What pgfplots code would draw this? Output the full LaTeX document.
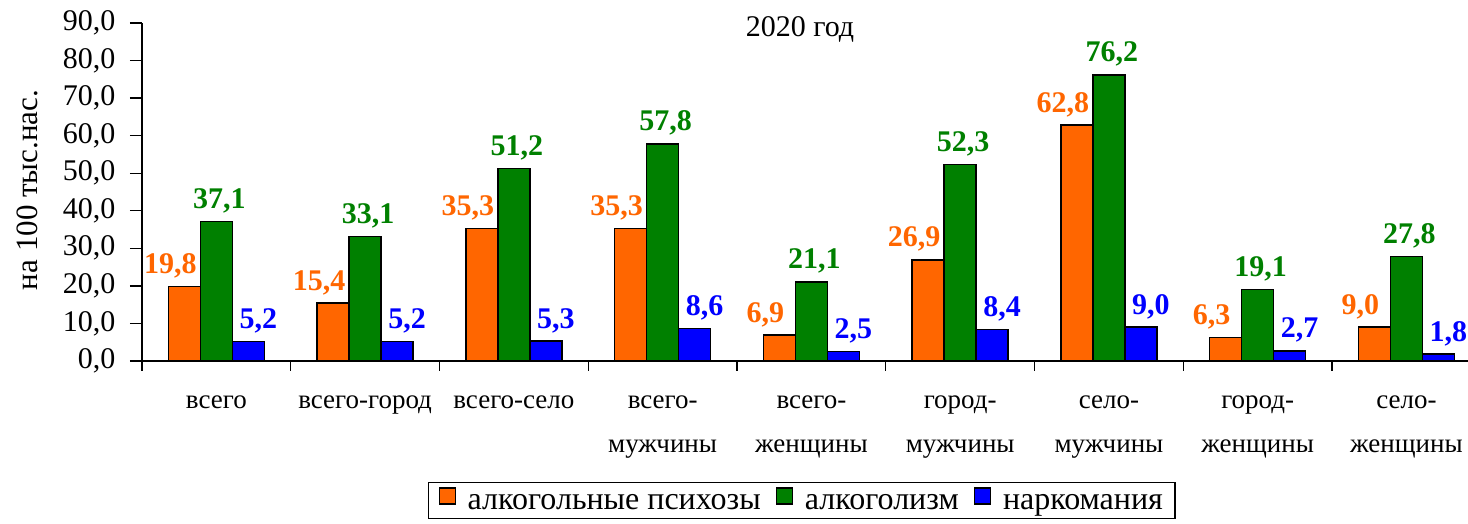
\documentclass[border=0pt]{standalone}
\usepackage{fontspec}
\setmainfont{Liberation Serif}
\usepackage{pgfplots}
\pgfplotsset{compat=1.18}
\definecolor{cOr}{HTML}{FF6600}
\definecolor{cGr}{HTML}{008000}
\definecolor{cBl}{HTML}{0000FF}
\begin{document}
\begin{tikzpicture}
\useasboundingbox (0,0) rectangle (1468pt,524pt);
\begin{axis}[
  at={(142pt,163pt)}, anchor=south west, scale only axis,
  width=1326pt, height=338pt,
  xmin=-0.5, xmax=8.414, ymin=0, ymax=90,
  ybar=0pt, bar width=32pt,
  axis x line*=bottom, axis y line*=left,
  axis line style={line width=1.3pt},
  tick align=outside,
  major tick length=12pt, minor tick length=10pt,
  tick style={black, line width=1.3pt},
  every major x tick/.append style={draw=none},
  ytick={0,10,...,90},
  xtick={0,...,8},
  minor xtick={-0.5,0.5,...,7.5},
  xticklabels={{всего},{всего-город},{всего-село},{всего-\\мужчины},{всего-\\женщины},{город-\\мужчины},{село-\\мужчины},{город-\\женщины},{село-\\женщины}},
  xticklabel style={font=\fontsize{27}{44}\selectfont, align=center, yshift=-19pt},
  yticklabel style={font=\fontsize{30}{30}\selectfont, xshift=-11pt},
  /pgf/number format/.cd, fixed, fixed zerofill, precision=1, use comma, assume math mode=true,
  /pgfplots/.cd,
  nodes near coords,
  every node near coord/.append style={font=\fontsize{30}{30}\selectfont\bfseries, anchor=base, yshift=13pt},
  legend style={at={(0.4975,-0.412)}, anchor=center, legend columns=-1, draw=black, line width=1.3pt,
    font=\fontsize{32}{35}\selectfont, inner xsep=10pt, inner ysep=5pt,
    /tikz/every odd column/.append style={column sep=10pt},
    /tikz/every even column/.append style={column sep=13pt}},
  mylegend/.style={legend image code/.code={\draw[##1, line width=1.2pt] (0pt,-1pt) rectangle (16pt,15pt);}},
]
\addplot[fill=cOr, draw=black, line width=1.5pt, mylegend, every node near coord/.append style={text=cOr, xshift=-14pt}]
  coordinates {(0,19.8) (1,15.4) (2,35.3) (3,35.3) (4,6.9) (5,26.9) (6,62.8) (7,6.3) (8,9.0)};
\addplot[fill=cGr, draw=black, line width=1.5pt, mylegend, every node near coord/.append style={text=cGr, xshift=3pt}]
  coordinates {(0,37.1) (1,33.1) (2,51.2) (3,57.8) (4,21.1) (5,52.3) (6,76.2) (7,19.1) (8,27.8)};
\addplot[fill=cBl, draw=black, line width=1.5pt, mylegend, every node near coord/.append style={text=cBl, xshift=10pt}]
  coordinates {(0,5.2) (1,5.2) (2,5.3) (3,8.6) (4,2.5) (5,8.4) (6,9.0) (7,2.7) (8,1.8)};
\legend{алкогольные психозы, алкоголизм, наркомания}
\end{axis}
\node[rotate=90, anchor=base, font=\fontsize{31}{31}\selectfont] at (37pt,334pt) {на 100 тыс.нас.};
\node[anchor=base, font=\fontsize{30}{30}\selectfont] at (800pt,487pt) {2020 год};
\end{tikzpicture}
\end{document}
